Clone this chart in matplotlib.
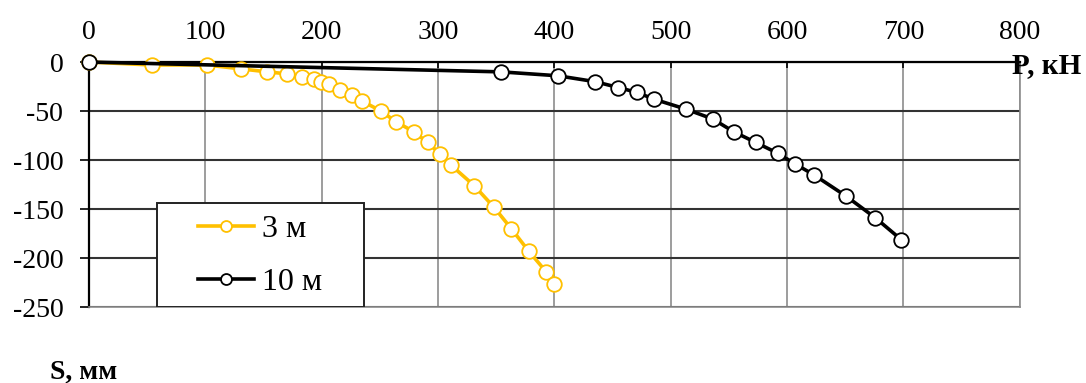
import matplotlib.pyplot as plt
from matplotlib.patches import Rectangle

# осадка сваи S (мм) от нагрузки P (кН)
p_3m = [0, 54, 101, 131, 153, 170, 183, 193, 199, 206, 216, 226, 235, 251,
        264, 279, 291, 302, 311, 331, 348, 363, 378, 393, 400]
s_3m = [0, -3, -3, -7, -10, -12, -15, -17, -20, -22, -29, -34, -40, -50,
        -61, -71, -82, -94, -105, -126, -148, -170, -193, -214, -226]

p_10m = [0, 354, 403, 435, 455, 471, 486, 513, 536, 554, 573, 592, 607,
         623, 651, 676, 698]
s_10m = [0, -10, -14, -20, -26, -31, -38, -48, -58, -71, -82, -93, -104,
         -115, -137, -159, -181]

x_ticks = [0, 100, 200, 300, 400, 500, 600, 700, 800]
y_ticks = [0, -50, -100, -150, -200, -250]

plt.rcParams['font.family'] = ['Liberation Serif', 'DejaVu Serif']
plt.rcParams['font.size'] = 20
plt.rcParams['axes.unicode_minus'] = False

fig = plt.figure(figsize=(10.86, 3.83), dpi=100)
ax = fig.add_axes([0.082, 0.198, 0.857, 0.64])

ax.plot(p_3m, s_3m, color='#FFC000', lw=2.6, marker='o', ms=10.5,
        mfc='white', mec='#FFC000', mew=1.3, label='3 м', zorder=3,
        clip_on=False)
ax.plot(p_10m, s_10m, color='black', lw=2.6, marker='o', ms=10.5,
        mfc='white', mec='black', mew=1.3, label='10 м', zorder=4,
        clip_on=False)

ax.set_xlim(0, 800)
ax.set_ylim(-250, 0)
ax.set_xticks(x_ticks)
ax.set_yticks(y_ticks)
ax.xaxis.tick_top()
ax.tick_params(axis='x', direction='in', length=4, width=1.2, pad=12,
               colors='black')
ax.tick_params(axis='y', direction='out', length=6.5, width=1.2, pad=12)

ax.grid(axis='x', color='#8c8c8c', lw=1.2)
ax.grid(axis='y', color='#333333', lw=1.5)
ax.set_axisbelow(True)

ax.spines['top'].set_color('black')
ax.spines['top'].set_linewidth(1.6)
ax.spines['left'].set_color('black')
ax.spines['left'].set_linewidth(1.6)
ax.spines['right'].set_color('#8c8c8c')
ax.spines['bottom'].set_color('#8c8c8c')
ax.spines['right'].set_linewidth(1.2)
ax.spines['bottom'].set_linewidth(1.2)

# рамка легенды
box = Rectangle((0.073, 0.0), 0.222, 0.426, transform=ax.transAxes,
                facecolor='white', edgecolor='#222222', lw=1.4, zorder=6)
ax.add_patch(box)

handles, labels = ax.get_legend_handles_labels()
leg = ax.legend(handles, labels, loc='center',
                bbox_to_anchor=(0.073 + 0.111, 0.21), frameon=False,
                handlelength=1.75, borderpad=0, labelspacing=0.75,
                handletextpad=0.25, borderaxespad=0, markerscale=0.75,
                prop={'size': 23})
leg.set_zorder(7)

fig.text(0.932, 0.83, 'P, кН', fontsize=21, fontweight='bold', va='center')
fig.text(0.046, 0.028, 'S, мм', fontsize=20, fontweight='bold', va='center')

fig.savefig('out.png', dpi=100)
